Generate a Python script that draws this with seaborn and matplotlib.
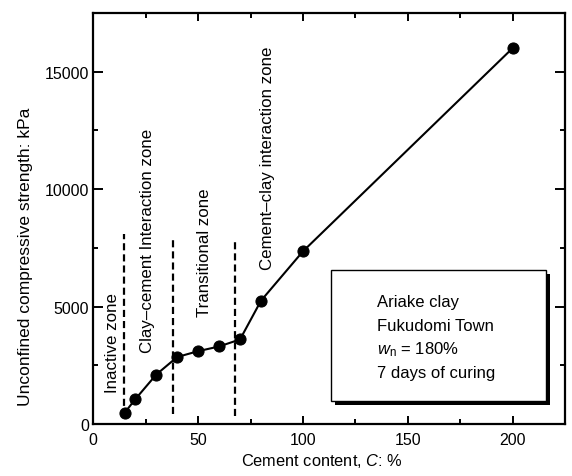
import matplotlib
matplotlib.use("Agg")
import matplotlib.pyplot as plt
import matplotlib.patheffects as pe
from matplotlib.patches import Rectangle
from matplotlib.ticker import MultipleLocator
import pandas as pd
import seaborn as sns

# Unconfined compressive strength vs cement content (Ariake clay, 7 days curing)
cement_content = [15, 20, 30, 40, 50, 60, 70, 80, 100, 200]
strength_kpa = [480, 1050, 2100, 2850, 3100, 3300, 3600, 5250, 7350, 16000]

# Zone boundaries (cement content) and the extent of each dashed divider
zone_bounds = [14.5, 38, 67.5]
zone_bottoms = [300, 420, 320]
zone_tops = [8080, 7900, 7740]

zone_names = ["Inactive zone", "Clay\u2013cement Interaction zone",
              "Transitional zone", "Cement\u2013clay interaction zone"]
zone_label_x = [9, 26, 53, 83]
zone_label_y = [1350, 3050, 4600, 6600]

info_lines = ["Ariake clay", "Fukudomi Town",
              r"$\mathit{w}_\mathrm{n}$ = 180%", "7 days of curing"]

x_ticks = [0, 50, 100, 150, 200]
y_ticks = [0, 5000, 10000, 15000]

sns.set_theme(style="ticks")
plt.rcParams["font.family"] = ["Liberation Sans", "DejaVu Sans"]
plt.rcParams["mathtext.fontset"] = "custom"
plt.rcParams["mathtext.rm"] = "Liberation Sans"
plt.rcParams["mathtext.it"] = "Liberation Sans:italic"

df = pd.DataFrame({"C": cement_content, "qu": strength_kpa})

fig = plt.figure(figsize=(5.72, 4.77), dpi=100)
ax = fig.add_axes([0.163, 0.109, 0.825, 0.862])

sns.lineplot(data=df, x="C", y="qu", ax=ax, color="black", linewidth=1.5,
             marker="o", markersize=8, markerfacecolor="black",
             markeredgecolor="black", zorder=4)

for xb, y0, y1 in zip(zone_bounds, zone_bottoms, zone_tops):
    ax.plot([xb, xb], [y0, y1], color="black", linewidth=1.6,
            linestyle=(0, (3.2, 1.8)), zorder=3)

for name, zx, zy in zip(zone_names, zone_label_x, zone_label_y):
    ax.text(zx, zy, name, rotation=90, ha="center", va="bottom",
            fontsize=12.2, color="black")

# Info box with a solid drop shadow
box = Rectangle((0.504, 0.056), 0.456, 0.319, transform=ax.transAxes,
                facecolor="white", edgecolor="black", linewidth=1.0, zorder=5)
box.set_path_effects([pe.SimplePatchShadow(offset=(3, -3), shadow_rgbFace="black",
                                           alpha=1.0),
                      pe.Normal()])
ax.add_patch(box)
for i, line in enumerate(info_lines):
    ax.text(0.601, 0.297 - i * 0.057, line, transform=ax.transAxes,
            ha="left", va="center", fontsize=12, color="black", zorder=6)

ax.set_xlim(0, 225)
ax.set_ylim(0, 17500)
ax.set_xticks(x_ticks)
ax.set_yticks(y_ticks)
ax.xaxis.set_minor_locator(MultipleLocator(25))
ax.yaxis.set_minor_locator(MultipleLocator(2500))

ax.tick_params(which="both", direction="in", top=True, right=True,
               color="black", width=1.4)
ax.tick_params(which="major", length=6, labelsize=11.5, labelcolor="black")
ax.tick_params(axis="y", which="major", length=7, pad=3)
ax.tick_params(axis="x", which="major", pad=6)
ax.tick_params(which="minor", length=3.5)

for spine in ax.spines.values():
    spine.set_visible(True)
    spine.set_linewidth(1.6)
    spine.set_color("black")

ax.set_xlabel(r"Cement content, $\mathit{C}$: %", fontsize=11.8, color="black")
ax.set_ylabel("Unconfined compressive strength: kPa", fontsize=12.5, color="black")
ax.xaxis.set_label_coords(0.484, -0.066)
ax.yaxis.set_label_coords(-0.127, 0.41)

fig.savefig("out.png", dpi=100, facecolor="white")
